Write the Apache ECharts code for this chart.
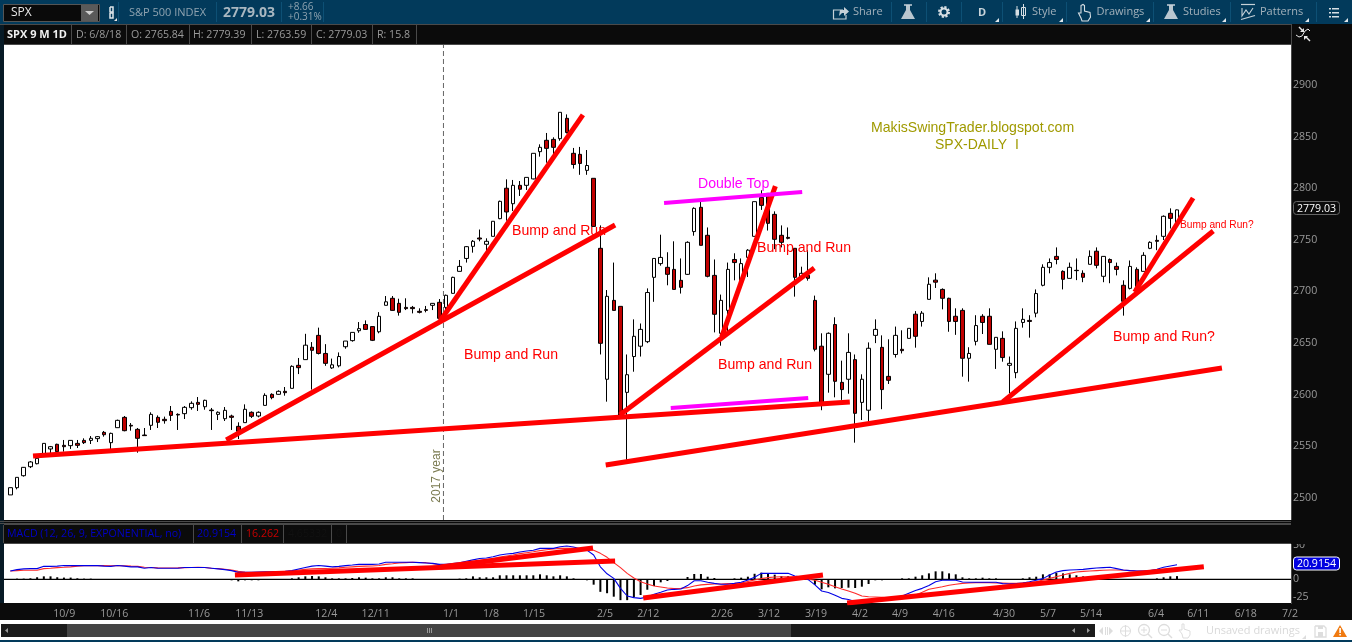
<!DOCTYPE html>
<html><head><meta charset="utf-8">
<style>html,body{margin:0;padding:0;background:#000}#c{width:1352px;height:642px}</style>
<script src="https://cdn.jsdelivr.net/npm/echarts@6/dist/echarts.min.js"></script>
</head><body><div id="c"></div>
<script>
const opens=[2503,2510,2521.6,2530.3,2533.2,2542.6,2547.5,2552,2551,2550.7,
2552.9,2555.8,2555.8,2557.5,2563.6,2553.6,2568.1,2578.1,2570.4,2566.5,
2561,2570.4,2578.1,2576.2,2583.9,2581,2581.7,2587.5,2592.6,2588.4,
2585.2,2581,2576.8,2579.4,2569.4,2573,2583,2579.4,2589.7,2600.4,
2600.4,2603.3,2606.2,2628.5,2634,2646,2657.5,2640,2626,2628,
2646.5,2652.4,2662,2668,2666,2661,2686.6,2693.4,2688.5,2684.6,
2684.6,2680.8,2682.4,2686.6,2689.5,2684.6,2698.2,2719.5,2732,2743.7,
2751.8,2745.7,2753.4,2770.5,2800,2785,2802.8,2802.8,2809,2835.4,
2846.4,2847.3,2848,2867.7,2833.8,2832.8,2817.3,2809.6,2741.8,2615,
2691.4,2685.6,2602.3,2637,2647,2651.4,2713.7,2727,2723.4,2721.4,
2710.8,2716.6,2758,2781.5,2754.4,2715.6,2659.5,2681.7,2731,2710.8,
2733,2753.4,2791,2795,2774.7,2754.4,2752.4,2741.8,2713.7,2715.6,
2691.4,2647,2619.8,2668,2612,2615,2634,2592.6,2585,2657.5,
2645.9,2617.8,2639,2644,2654.6,2678,2671,2692.4,2711,2702,
2693.4,2676,2681.7,2635.3,2651.7,2676,2676,2644,2654.6,2628.5,
2621.4,2670,2672,2679,2706,2723.4,2734,2719.5,2712.7,2720.5,
2717.6,2726.3,2739,2714.7,2731,2724.3,2706,2703,2721.4,2719.5,
2741.8,2749.5,2753.4,2775.7,2765.84];
const closes=[2510,2520,2529.7,2534.9,2538.4,2552.9,2549.7,2544.9,2549.7,2555.8,
2551,2553.6,2557.8,2559.4,2561.3,2562.6,2575.2,2565.2,2569.7,2557.8,
2560.4,2581,2573.3,2574.9,2580,2580.4,2587.8,2591.7,2590.7,2594.6,
2584.6,2583,2584.9,2578.1,2564.6,2585.9,2579.1,2583,2599.4,2597.2,
2603.3,2602,2627.5,2626.2,2648,2643,2640,2630.4,2629,2637,
2652,2660.4,2664,2663.3,2652.7,2676,2690,2681.7,2679.8,2683.4,
2683.4,2679.8,2681.7,2688.5,2674,2696.3,2713.7,2724.3,2743.4,2748.6,
2750.8,2748.6,2768,2787.3,2777,2802.8,2799,2810.5,2833.8,2839.6,
2838.6,2839.6,2873.5,2854,2823,2824,2822,2763,2649.8,2695.3,
2681.7,2580.4,2619.4,2656.6,2663.3,2699,2732,2733,2716.6,2702,
2704,2747.6,2780.5,2744.7,2714.7,2677.9,2691.4,2721.4,2728,2727,
2740,2787,2783.4,2766,2750.5,2747.6,2751.5,2713.7,2717.6,2712.7,
2644,2589.7,2659.5,2613,2605,2641,2582,2615,2645,2663.3,
2605,2614,2657.5,2642.7,2664.3,2656.6,2679,2707,2709,2693.4,
2671,2671,2635.3,2640,2667,2670,2648.8,2655.6,2636,2630.4,
2664.3,2673,2671,2698,2723.4,2728,2731,2711.8,2723.4,2720.2,
2713.7,2734,2725.3,2734,2728,2721.4,2690.5,2724.3,2704.7,2735,
2747.6,2748.6,2772.8,2770.8,2779.03];
const lows=[2503,2508.4,2520.7,2529,2532.6,2541.6,2543.3,2543.3,2544.9,2547.5,
2548.4,2552.3,2552.3,2554.2,2559.4,2547.1,2568.1,2564.6,2565.2,2543.9,
2560.4,2565.9,2567.8,2572,2574.6,2565.9,2576.5,2585.5,2584.3,2585.5,
2565.9,2575.5,2574.6,2565.9,2557.1,2573,2577.5,2578.1,2589.7,2595.6,
2600.1,2599.1,2606.2,2620,2634,2605,2639,2628,2625,2626.5,
2644.6,2651.4,2660,2663.3,2652,2659.5,2686.6,2681.4,2676.6,2682,
2678.8,2678.8,2679.8,2682,2672.4,2682,2698,2719.5,2728,2737.6,
2748.6,2739.5,2753.4,2770,2768.6,2778,2792.5,2798.3,2808.6,2830.6,
2824.7,2832.8,2846,2853,2819,2813,2813,2762.7,2639,2593.3,
2681.7,2580.4,2537,2622.3,2637,2650,2690,2725,2706,2702,
2698,2716,2754,2744.7,2713.7,2660.4,2647.5,2659.5,2710.8,2708,
2714,2753.4,2779,2759,2741,2742.7,2750.5,2695,2713.7,2710.5,
2642,2585,2602,2597.5,2595,2601,2553.6,2575.5,2574,2650,
2586,2610.4,2636,2640,2654.6,2645.6,2666,2692.4,2703.4,2682.7,
2661,2658,2617.5,2612.7,2647.8,2658.8,2648.8,2625,2632,2601.4,
2616,2665,2655.3,2675,2705,2717.6,2726.3,2702,2712.7,2711,
2709,2726.3,2722.4,2709,2708,2715.6,2676.6,2702,2701,2719.5,
2741,2740,2749.8,2761,2763.59];
const highs=[2510,2520,2530,2535.8,2539,2553,2550.4,2552.6,2556.2,2556,
2556.2,2557.8,2560,2560,2564.9,2563.3,2575.9,2579.4,2572.6,2567.8,
2567.8,2583,2580,2578.8,2589.1,2582,2589.1,2593.6,2597.8,2595.2,
2587.2,2583.9,2588.1,2580.7,2573.3,2590.7,2583.9,2583.9,2601.4,2601.4,
2604.3,2607.5,2628.5,2635.6,2659,2651,2665,2649,2635,2641,
2652,2660.4,2670.4,2672,2666,2680,2695.6,2695.6,2693,2693.4,
2686,2683.7,2686,2688.8,2692.7,2697,2714.3,2730.5,2744,2749.8,
2760,2751.5,2768,2788,2808.6,2808,2807,2810.5,2833.8,2842.5,
2853.5,2849.3,2873.5,2871.5,2839,2840,2837,2809.6,2764,2701.4,
2728,2685.6,2639,2673,2669,2703,2732,2755,2738,2748.6,
2732,2748.6,2781.5,2787,2762,2731,2697,2728,2737,2732,
2741,2787,2798,2795,2777.6,2764,2762,2741.8,2724,2740,
2696,2659.5,2660.4,2675,2633,2659.5,2639,2619.8,2650.7,2673,
2657.5,2653.7,2666,2662.4,2664.3,2681,2681,2713.7,2717.6,2703,
2694,2683.7,2683.7,2646,2677,2678,2683.7,2655.6,2661.4,2637,
2671,2683.7,2677,2702,2726.3,2732,2742.7,2720.5,2728,2732,
2720.5,2739.8,2742.7,2734,2732,2728,2710.8,2730,2723.4,2738,
2748.6,2754.4,2773.7,2780.5,2779.39];
const macdValue=[12,14,15,15.4,15.4,18.7,18.7,19,20,19.7,
19.7,19.7,19.7,19.7,19,18.7,20,19,18,18,
16,17,16,16,16,16,17,17,17,17,
16,15,14,12.5,10,10,10,10.6,11,11,
11,11.5,12.5,15,17,19,20,19,18,18.7,
19.7,20.6,21.6,21.6,21.6,22,24.5,24.5,24.5,24.5,
24.5,24,23.5,23,21.5,21.5,22.6,24,26,28,
30,30.7,32.6,35,36.5,37.4,39.4,40.8,42,44.6,
44.6,44.6,47,48,46.6,44,42,35,18,8,
1.4,-13,-24,-26.4,-27.4,-25.4,-21.6,-18.7,-15.4,-14.4,
-14,-9,-2,-2,-4.3,-5.8,-7,-7,-5.8,-4.3,
-1,3,8.6,8.6,8.6,8.6,8.6,4.8,3.4,-0.5,
-8,-16.8,-19,-23,-27.4,-29,-32,-32,-31,-30,
-29,-27.4,-26,-24,-20,-16,-13,-9,-3.4,-1.4,
-1.4,-1.4,-3.8,-4.3,-4.3,-4.3,-4.3,-4.3,-6.2,-6.7,
-6.2,-5.3,-3.4,-1.4,1,6.2,10.6,12.5,13.4,13.9,
14.4,15.4,16.3,16.8,17.3,15.4,13.4,12.5,12,12,
12.5,14.4,17.3,19.2,20.9154];
const macdAvg=[12,12.5,13,13,13,15.4,16,16.8,17.3,18,
19,19.7,19.7,19.7,19.7,19.5,20,19.5,19,18.7,
17.3,17,16.5,16.3,16.3,16.5,16.8,17,17.3,17,
16,15.4,14.5,13.4,11.5,10.6,10,10,10.3,10.6,
11,11,12,13.4,14.4,15,15.4,15.6,16,16.5,
17.3,18,18.7,19,19.2,20,21.6,22.5,23.5,24,
24.5,24.2,24,22.5,21,20,19.7,20.6,22,24.5,
27,28,30,32,33.6,35,37,38.4,39.8,41.3,
42.7,43.7,44.6,44.6,44.6,44,43,42,37.4,31.7,
24,16.8,8.6,2,-3.4,-6.7,-9.6,-11,-12.5,-13.4,
-13,-12,-9.6,-8,-7.2,-6.7,-6.7,-6.2,-5.8,-5.3,
-3,-1,1,2.4,3.4,3.8,3.8,3.4,2.4,0,
-1.4,-4.3,-7.2,-10.6,-14,-16.8,-20,-24,-25,-25.4,
-26,-27,-27.4,-28,-26.4,-22.6,-18.7,-14.4,-12.5,-10.6,
-8.6,-7.2,-5.8,-5.3,-4.8,-4.8,-4.8,-5.3,-5.3,-5.8,
-5.8,-5.3,-4.8,-3.4,-1,1.4,3.8,6.2,8.6,10.6,
11.5,12,12.5,13,13.4,13.4,13,12.5,12,12,
12,13,14,15,16.262];
const macdDiff=[0,1,1,1.5,3,4.3,4.3,3,2.5,2.5,
1.5,1,1,0,0,0,0,0,0,0,
0,0,0,0,0,0,0,0,0,0,
0,0,0,-1.4,-2.9,-1.4,-1.4,-1.4,0,0,
0,0,1.4,2.9,4.3,4.8,4.3,2.9,1.4,1.4,
1.4,1.9,2.9,2.4,1.4,1.4,2.9,2.9,1.4,1.4,
1.4,0,0,0,0,0,0,1,1.4,4.3,
2.9,2.9,2.9,5.8,5.8,5.8,5.8,5.8,5.8,7.2,
5.8,4.3,5.8,4.3,1.4,0,-1.4,-7.7,-18,-20,
-25,-30,-30,-26,-22.6,-15,-9.6,-4.3,-2.4,0,
0,3.4,7.7,7.7,3.8,1.9,0,0,1.4,2.4,
3.8,8,9.6,8.6,6.7,4.8,4.8,2.9,1.9,-1,
-7.7,-14.4,-11.5,-13,-12.5,-12,-12.5,-10.6,-6.7,-1.4,
-1.4,-1,0,1.4,1.4,3.8,5.8,8.6,11.5,11.5,
8.6,7.2,2.9,1.4,1.4,2.4,1.4,1.4,0,0,
0,1.4,2.9,3.8,7.2,7.2,9.6,8.6,7.2,5.8,
4.3,2.9,0,0,0,0,0,0,0,0,
0,1.4,2.9,4.3,4.65332];
const dateTickPositions=[8.05,15.51,28.14,35.64,47.13,54.49,65.73,71.69,78.1,88.7,95.15,106.14,113.15,120.16,126.72,132.69,139.2,148.2,154.76,161.17,170.87,177.18,184.25,190.86];
const dateTickLabels=['10/9','10/16','11/6','11/13','12/4','12/11','1/1','1/8','1/15','2/5','2/12','2/26','3/12','3/19','4/2','4/9','4/16','4/30','5/7','5/14','6/4','6/11','6/18','7/2'];
const priceTicks=[2500,2550,2600,2650,2700,2750,2800,2850,2900];
const macdTicks=[-25,0,50];
const trendA=[[3.39,2540.7],[125.2,2593]];
const trendB=[[32.2,2556.2],[90.2,2764.4]];
const trendC=[[64.1,2671.4],[85.4,2871]];
const trendD=[[90.9,2580.4],[119.9,2722.8]];
const trendE=[[106.1,2656],[114.1,2802]];
const trendF=[[88.8,2532],[180.7,2625.9]];
const trendG=[[148,2593],[179.4,2758.6]];
const trendH=[[167.7,2699.5],[176.4,2790.5]];
const doubleTopUpper=[[97.5,2785.7],[118.1,2796.4]];
const doubleTopLower=[[98.5,2587.2],[119,2596.9]];
const macdTrend1=[[33.5,6.2],[90.2,26.4]];
const macdTrend2=[[64.1,17.7],[86.9,45.1]];
const macdTrend3=[[94.4,-27],[121.2,6.2]];
const macdTrend4=[[124.8,-34],[178,18.2]];
const yearMarkerIndex=64.6;

const xMin=-0.94,xMax=191,pMin=2478.7,pMax=2938.7,mMin=-34.1,mMax=50.9;
const idx=opens.map((_,i)=>i);
const tickText={};dateTickPositions.forEach((p,i)=>tickText[p]=dateTickLabels[i]);
const chart=echarts.init(document.getElementById('c'),null,{renderer:'canvas'});
const UI='"Open Sans",sans-serif',AR='"Liberation Sans",Arial,sans-serif';
const BAR='#023a5b',BLK='#0b0b0b',SEP='#4a4a4a',TXT='#a3b1bb',GR='#9a9a9a';
const rect=(x,y,w,h,fill,z=-10,extra={})=>({type:'rect',z,silent:true,shape:Object.assign({x,y,width:w,height:h},extra.shape||{}),style:Object.assign({fill},extra.style||{})});
const txt=(s,x,y,fill,font,z=20,al='left')=>({type:'text',z,silent:true,style:{text:s,x,y,fill,font,align:al,textAlign:al,verticalAlign:'middle',textVerticalAlign:'middle'}});
const poly=(pts,fill,z=20)=>({type:'polygon',z,silent:true,shape:{points:pts},style:{fill}});
const pl=(pts,stroke,w=1,z=20)=>({type:'polyline',z,silent:true,shape:{points:pts},style:{stroke,lineWidth:w,fill:null}});
const circ=(x,y,r,st,z=20)=>({type:'circle',z,silent:true,shape:{cx:x,cy:y,r},style:st});
const flask=x=>poly([[x+5,5],[x+5,10],[x,19],[x+14,19],[x+9,10],[x+9,5]],'#b9c6cf');
const g=[];
// frames
g.push(rect(0,0,1352,642,'#000',-20));
g.push(rect(0,0,1352,24,BAR));
g.push(rect(0,24,1352,20,BLK));
g.push(rect(1291,24,61,600,BLK));
g.push(rect(0,24,4,600,'#071a26'));
g.push(rect(4,45,1287,475,'#fff'));
g.push(rect(4,520,1287,24,BLK));
g.push(rect(4,544,1287,59,'#fff'));
g.push(rect(0,603,1352,17,BLK));
g.push(rect(0,620,1352,20,'#fff'));
g.push(rect(0,640,1352,2,BAR));
g.push(rect(0,24,1291,1,SEP,-5));g.push(rect(4,44,1287,1,SEP,-5));
g.push(rect(1291,24,1,580,SEP,-5));
g.push(rect(0,521,1352,1,SEP,-5));g.push(rect(0,523,1352,1,SEP,-5));
g.push(rect(4,543,1287,1,SEP,-5));g.push(rect(4,524,1287,1,SEP,-5));
g.push(rect(1291,520,61,24,BLK,15));
// top toolbar left
g.push(rect(3.5,4.5,96,17,'#0a0a0a',1,{style:{stroke:'#555',lineWidth:1}}));
g.push(txt('SPX',11,13,'#e8e8e8','12px '+UI));
g.push(rect(81,5,17,16,'#5a5a5a',2));
g.push(poly([[85,11],[94,11],[89.5,15]],'#cfcfcf'));
g.push(pl([[110,7],[113,7],[113,12],[110,12],[110,7]],'#dfe6ea',1.5));
g.push(pl([[110,13],[113,13],[113,18],[110,18],[110,13]],'#dfe6ea',1.5));
g.push(poly([[117,21],[114,21],[117,18]],'#e6e6e6'));
[118,216,281,323].forEach(x=>g.push(rect(x,2,1,20,'#0d5075',1)));
g.push(txt('S&P 500 INDEX',129,12.5,'#8fa3b0','11px '+UI));
g.push(txt('2779.03',223,13,'#a9b7c0','bold 14px '+UI));
g.push(txt('+8.66',288,7.5,'#8fa3b0','10px '+UI));
g.push(txt('+0.31%',288,17,'#8fa3b0','10px '+UI));
// top toolbar right
[891,926,961,1002,1066,1153,1230,1316].forEach(x=>g.push(rect(x,2,1,20,'#0d5075',1)));
[999,1063,1150,1226,1309,1348].forEach(x=>g.push(poly([[x-4,22],[x,22],[x,18]],'#dfe6ea')));
g.push(pl([[843,10],[833.5,10],[833.5,19],[846,19],[846,15]],'#c6d1d8',1.2));
g.push(poly([[839,16],[840,10],[844,10],[844,7],[849,11.5],[844,16],[844,13],[842,13]],'#c6d1d8'));
g.push(txt('Share',853,12,TXT,'11px '+UI));
g.push(flask(901));g.push(pl([[904,5],[912,5]],'#c6d1d8',1.5));
g.push(circ(944,12,4.5,{stroke:'#d7dfe4',lineWidth:3,lineDash:[2,1.5],fill:null}));
g.push(circ(944,12,3.5,{stroke:'#d7dfe4',lineWidth:2,fill:null}));
g.push(txt('D',982,12.5,'#c9d4da','bold 11px '+UI,20,'center'));
g.push(rect(1015.5,9.5,3.5,6,'#d7dfe4',20));g.push(rect(1021.5,7.5,4,8,BAR,20,{style:{stroke:'#d7dfe4',lineWidth:1}}));
g.push(pl([[1017,6],[1017,18]],'#d7dfe4',1));g.push(pl([[1023.5,4],[1023.5,19]],'#d7dfe4',1));
g.push(txt('Style',1032,12,TXT,'11px '+UI));
g.push(pl([[1081,18],[1078.5,13],[1081,13],[1081,5.5],[1083,4.5],[1084.5,5.5],[1084.5,11],[1090,12.5],[1090.5,17],[1088,21],[1082,21],[1081,18]],'#d7dfe4',1.1));
g.push(txt('Drawings',1096.5,12,TXT,'11px '+UI));
g.push(flask(1164));g.push(pl([[1167,5],[1175,5]],'#c6d1d8',1.5));
g.push(txt('Studies',1183,12,TXT,'11px '+UI));
g.push(pl([[1241,4.5],[1255,4.5]],'#c6d1d8',1.2));
g.push(pl([[1242,8],[1242,16],[1246,10],[1249,14],[1253,8]],'#c6d1d8',1.1));
g.push(pl([[1241,19.5],[1255,15.5]],'#c6d1d8',1.2));
g.push(txt('Patterns',1260,12,TXT,'11px '+UI));
[8,12,16].forEach(y=>{g.push(rect(1329,y,2,1.5,'#d7dfe4',20));g.push(rect(1332,y,7,1.5,'#d7dfe4',20));});
// status row
g.push(txt('SPX 9 M 1D',7,34.5,'#f0f0f0','bold 11px '+UI));
[['D: 6/8/18',76],['O: 2765.84',131],['H: 2779.39',193],['L: 2763.59',256],['C: 2779.03',316],['R: 15.8',377]].forEach(a=>g.push(txt(a[0],a[1],34.5,GR,'10.6px '+UI)));
[71,126,189,251,311,372,416].forEach(x=>g.push(rect(x,25,1,19,SEP,1)));
// study icon sidebar
g.push(pl([[1299,27],[1303,31]],'#e8e8e8',1.5));g.push(poly([[1304,32],[1304,28],[1300,32]],'#e8e8e8'));
g.push(pl([[1296,35],[1299,37],[1302,36],[1305,31],[1308,29],[1310,31]],'#e8e8e8',1));
g.push(pl([[1310,41],[1306,37]],'#e8e8e8',1.5));g.push(poly([[1304,36],[1304,40],[1308,36]],'#e8e8e8'));
// MACD header
g.push(txt('MACD (12, 26, 9, EXPONENTIAL, no)',7,534,'#0000c8','10.6px '+UI));
g.push(txt('20.9154',197,534,'#0000c8','10.6px '+UI));
g.push(txt('16.262',246,534,'#c80000','10.6px '+UI));
g.push(txt('4.65332',288,534,'#111111','10.6px '+UI));
g.push(txt('0',336,534,'#111111','10.6px '+UI));
[3,193,241,283,331,346].forEach(x=>g.push(rect(x,525,1,18,SEP,1)));
// price bubbles
g.push(rect(1293.5,201.5,46,13,'#0b0b0b',15,{shape:{r:3},style:{stroke:'#666',lineWidth:1}}));
g.push(txt('2779.03',1316.5,208.5,'#ffffff','10.6px '+UI,16,'center'));
g.push(rect(1293.5,557,46,13,'#0000e0',15,{shape:{r:3},style:{stroke:'#ffffff',lineWidth:1}}));
g.push(txt('20.9154',1316.5,564,'#ffffff','10.6px '+UI,16,'center'));
// annotations
const red='#ff0000';
[['Bump and Run',512,231],['Bump and Run',464,355],['Bump and Run',718,365],['Bump and Run',757,248],['Bump and Run?',1113,337]].forEach(a=>g.push(txt(a[0],a[1],a[2],red,'14.1px '+AR,30)));
g.push(txt('Bump and Run?',1180,225,red,'10.2px '+AR,30));
g.push(txt('Double Top',698,184,'#ff00ff','14.1px '+AR,30));
g.push(txt('MakisSwingTrader.blogspot.com',871,128,'#a09a00','14.1px '+AR,30));
g.push(txt('SPX-DAILY  I',935,145,'#a09a00','14px '+AR,30));
g.push({type:'text',z:30,silent:true,x:437,y:476,rotation:Math.PI/2,style:{text:'2017 year',x:0,y:0,fill:'#7a7a50',font:'12px '+AR,align:'center',textAlign:'center',verticalAlign:'middle',textVerticalAlign:'middle'}});
// scrollbar and bottom tools
g.push(rect(1,624,66,13,'#1b1b1b',1));g.push(rect(67,624,724,13,'#444444',1));g.push(rect(791,624,304,13,'#1b1b1b',1));
g.push(poly([[5,630.5],[8,628],[8,633]],'#999'));
[427,429,431].forEach(x=>g.push(rect(x,628,1,5,'#999',2)));
g.push(poly([[1072,630.5],[1075,628],[1075,633]],'#999'));g.push(poly([[1090,630.5],[1087,628],[1087,633]],'#999'));
const fa='#dddddd';
g.push(poly([[1099,631],[1103,627],[1103,635]],fa));g.push(poly([[1113,631],[1109,627],[1109,635]],fa));g.push(rect(1105,627,1,8,fa,20));g.push(rect(1107,627,1,8,fa,20));
g.push(circ(1125.5,631,5,{stroke:fa,lineWidth:1,fill:null}));g.push(pl([[1120,631],[1131,631]],fa));g.push(pl([[1125.5,625],[1125.5,637]],fa));
g.push(circ(1144,630,5.5,{stroke:fa,lineWidth:1.3,fill:null}));g.push(pl([[1148,634],[1152,638]],fa,1.5));g.push(pl([[1141,630],[1147,630]],fa));g.push(pl([[1144,627],[1144,633]],fa));
g.push(circ(1164,630,5.5,{stroke:fa,lineWidth:1.3,fill:null}));g.push(pl([[1168,634],[1172,638]],fa,1.5));g.push(pl([[1161,630],[1167,630]],fa));
g.push(pl([[1182,634],[1179,630],[1182,630],[1182,624],[1184,624],[1184,629],[1190,631],[1190,635],[1188,638],[1183,638],[1182,634]],fa,1));
g.push(txt('Unsaved drawings',1206,631,'#d9d9d9','11px '+UI));
g.push(poly([[1302,639],[1306,639],[1306,635]],fa));
g.push(pl([[1315,626],[1324,626],[1326,628],[1326,637],[1315,637],[1315,626]],fa,1.3));g.push(rect(1318,626,5,3,fa,20));g.push(rect(1318,632,5,5,fa,20));
g.push(poly([[1340,625],[1347,637],[1333,637]],'#f07a10'));g.push(rect(1339.3,628,1.6,5,'#fff',21));g.push(rect(1339.3,634,1.6,1.6,'#fff',21));

const xaxis=(gi,showLab)=>({type:'value',gridIndex:gi,min:xMin,max:xMax,show:showLab,splitLine:{show:false},axisLine:{show:false},axisTick:{show:false},
  axisLabel:showLab?{customValues:dateTickPositions,formatter:v=>tickText[v]||'',color:GR,fontSize:10.6,fontFamily:'Open Sans',margin:5,hideOverlap:false,showMinLabel:true,showMaxLabel:true}:{show:false}});
const yaxis=(gi,min,max,ticks)=>({type:'value',gridIndex:gi,position:'right',min,max,splitLine:{show:false},axisLine:{show:false},axisTick:{show:false},
  axisLabel:{customValues:ticks,formatter:v=>String(v),color:GR,fontSize:10.6,fontFamily:'Open Sans',margin:2,padding:[2,0,0,0],hideOverlap:false}});
const trend=(data,color,w,gi,z=10)=>({type:'line',xAxisIndex:gi,yAxisIndex:gi,data,showSymbol:false,symbol:'none',silent:true,z,animation:false,lineStyle:{color,width:w,cap:'butt'},clip:true});

const option={animation:false,backgroundColor:'transparent',graphic:{elements:g},
 grid:[{left:4,top:45,width:1287,height:475,containLabel:false},{left:4,top:544,width:1287,height:59,containLabel:false}],
 xAxis:[xaxis(0,false),xaxis(1,true)],
 yAxis:[yaxis(0,pMin,pMax,priceTicks),yaxis(1,mMin,mMax,macdTicks)],
 series:[
  {type:'candlestick',xAxisIndex:0,yAxisIndex:0,barWidth:4,z:5,silent:true,encode:{x:0,y:[1,2,3,4]},
   data:idx.map(i=>[i,opens[i],closes[i],lows[i],highs[i]]),
   itemStyle:{color:'#ffffff',color0:'#c00000',borderColor:'#000',borderColor0:'#000',borderWidth:1}},
  Object.assign(trend([[yearMarkerIndex,pMin],[yearMarkerIndex,pMax]],'#666',1,0,4),{lineStyle:{color:'#666',width:1,type:[5,3]}}),
  trend(trendA,red,5,0),trend(trendB,red,5,0),trend(trendC,red,5,0),trend(trendD,red,5,0),
  trend(trendE,red,5,0),trend(trendF,red,5,0),trend(trendG,red,5,0),trend(trendH,red,5,0),
  trend(doubleTopUpper,'#ff00ff',4,0),trend(doubleTopLower,'#ff00ff',4,0),
  {type:'bar',xAxisIndex:1,yAxisIndex:1,barWidth:2,z:3,silent:true,data:idx.filter(i=>macdDiff[i]!==0).map(i=>[i,macdDiff[i]]),itemStyle:{color:'#000'}},
  trend([[xMin,0],[xMax,0]],'#000',1.4,1,3),
  trend(idx.map(i=>[i,macdAvg[i]]),'#ff2a2a',1.1,1,6),
  trend(idx.map(i=>[i,macdValue[i]]),'#0000e6',1.1,1,7),
  trend(macdTrend1,red,5,1,10),trend(macdTrend2,red,5,1,10),trend(macdTrend3,red,5,1,10),trend(macdTrend4,red,5,1,10)
 ]};
chart.setOption(option);
</script></body></html>
